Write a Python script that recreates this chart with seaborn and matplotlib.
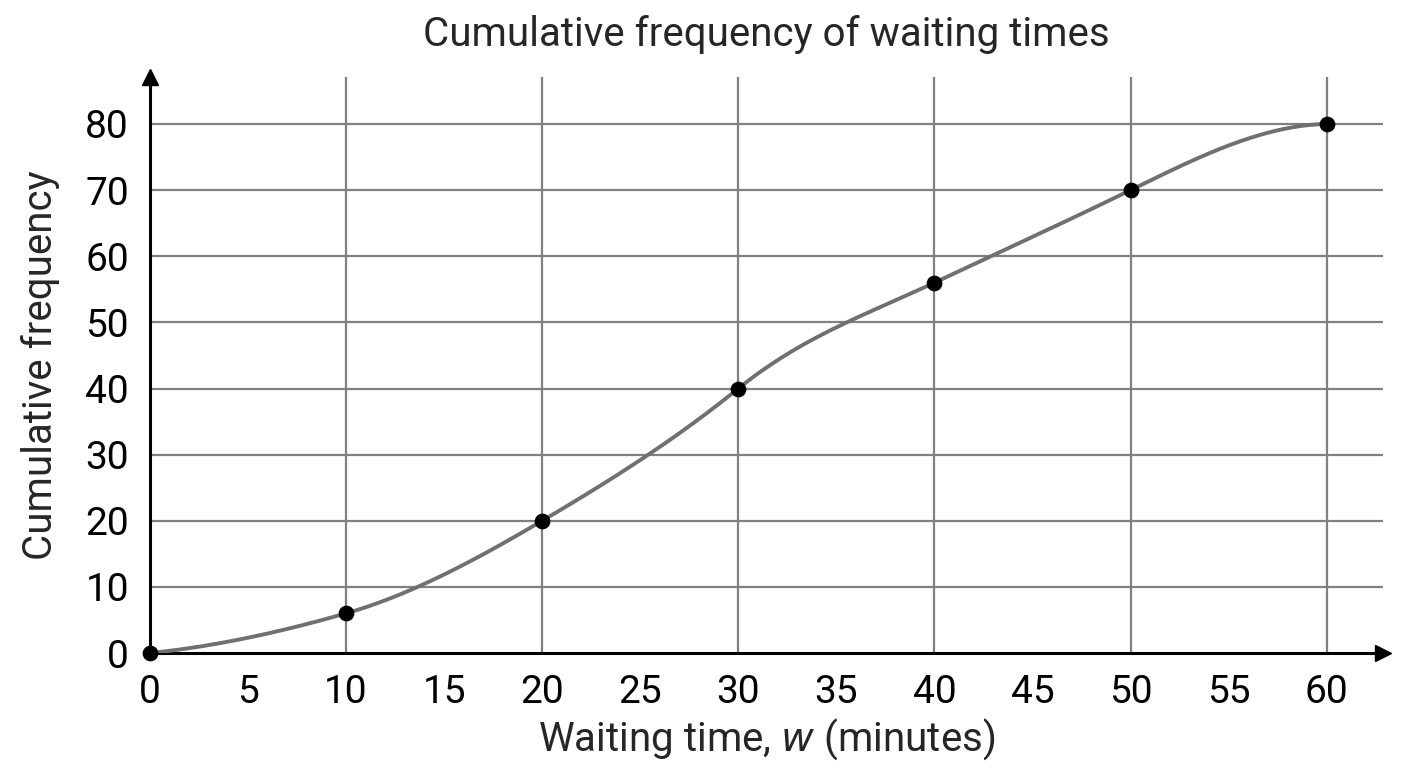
import numpy as np
import pandas as pd
import matplotlib
matplotlib.use("Agg")
import matplotlib.pyplot as plt
from matplotlib.ticker import MultipleLocator
import seaborn as sns

# data
waiting_time = [0, 10, 20, 30, 40, 50, 60]
cum_freq = [0, 6, 20, 40, 56, 70, 80]
x_tick_labels = [0, 5, 10, 15, 20, 25, 30, 35, 40, 45, 50, 55, 60]
y_tick_labels = [0, 10, 20, 30, 40, 50, 60, 70, 80]

# tangents of the hand-drawn smooth curve at each point
curve_slopes = [0.3, 0.85, 1.75, 2.4, 1.4, 1.45, 0.05]


def hermite_curve(x, y, m, n=60):
    # cubic hermite pieces between the points
    xs_all, ys_all = [], []
    for i in range(len(x) - 1):
        h = x[i + 1] - x[i]
        t = np.linspace(0, 1, n)
        h00 = 2 * t**3 - 3 * t**2 + 1
        h10 = t**3 - 2 * t**2 + t
        h01 = -2 * t**3 + 3 * t**2
        h11 = t**3 - t**2
        xs_all.append(x[i] + t * h)
        ys_all.append(h00 * y[i] + h10 * h * m[i] + h01 * y[i + 1] + h11 * h * m[i + 1])
    return np.concatenate(xs_all), np.concatenate(ys_all)


sns.set_style("white")
plt.rcParams["font.family"] = ["Roboto", "DejaVu Sans"]

df = pd.DataFrame({"w": waiting_time, "cf": cum_freq})
xs, ys = hermite_curve(waiting_time, cum_freq, curve_slopes)
curve = pd.DataFrame({"w": xs, "cf": ys})

fig = plt.figure(figsize=(14.08, 7.68), dpi=100)
ax = fig.add_axes([0.1065, 0.1497, 0.8755, 0.75])

ax.set_xlim(0, 62.85)
ax.set_ylim(0, 87.1)

# grid
for gx in range(10, 61, 10):
    ax.axvline(gx, color="#808080", lw=1.6, zorder=1)
for gy in range(10, 81, 10):
    ax.axhline(gy, color="#808080", lw=1.6, zorder=1)

sns.lineplot(data=curve, x="w", y="cf", color="#707070", linewidth=2.8,
             ax=ax, zorder=3, sort=False)
sns.scatterplot(data=df, x="w", y="cf", color="black", s=110,
                edgecolor="black", ax=ax, zorder=4, clip_on=False)

for side in ["top", "right"]:
    ax.spines[side].set_visible(False)
for side in ["left", "bottom"]:
    ax.spines[side].set_color("black")
    ax.spines[side].set_linewidth(2.2)

# arrow heads at the ends of the axes
ax.plot(1, 0, ">", color="black", markersize=11, transform=ax.transAxes,
        clip_on=False, zorder=5)
ax.plot(0, 1, "^", color="black", markersize=11, transform=ax.transAxes,
        clip_on=False, zorder=5)

ax.set_xticks(x_tick_labels)
ax.set_xticklabels([str(v) for v in x_tick_labels])
ax.xaxis.set_minor_locator(MultipleLocator(2.5))
ax.set_yticks(y_tick_labels)
ax.set_yticklabels([str(v) for v in y_tick_labels])
ax.tick_params(axis="both", which="both", direction="out", length=10,
               width=2, color="black", labelsize=28, labelcolor="black")
ax.tick_params(axis="x", which="major", pad=5)
ax.tick_params(axis="y", which="major", pad=5)

ax.set_xlabel("Waiting time, $\\it{w}$ (minutes)", fontsize=29, labelpad=4)
ax.set_ylabel("Cumulative frequency", fontsize=29, labelpad=18)
ax.set_title("Cumulative frequency of waiting times", fontsize=29, pad=22)

fig.savefig("out.png", dpi=100)
